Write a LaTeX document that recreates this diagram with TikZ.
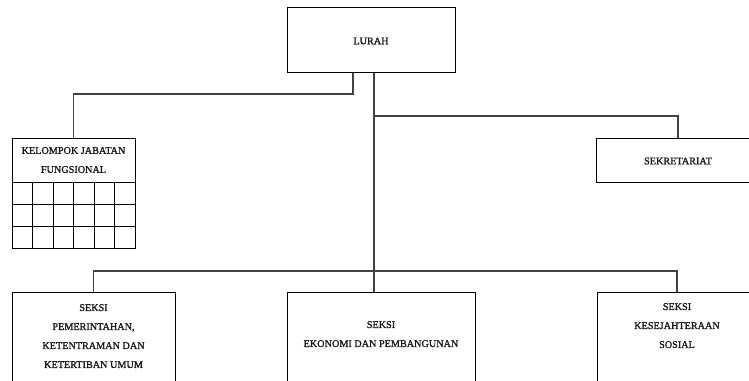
\documentclass[tikz,border=0pt]{standalone}
\usepackage{fontspec}
\setmainfont{Liberation Serif}
\newfontfamily\orgfont[FakeBold=1.4]{Liberation Serif}
\begin{document}
\begin{tikzpicture}[x=1pt,y=-1pt,
  box/.style={draw=black,line width=1pt,rectangle,inner sep=0pt,fill=white},
  conn/.style={draw=black!75,line width=1.1pt},
  lbl/.style={font=\orgfont\fontsize{10.2}{19}\selectfont,align=center,inner sep=0pt,text=black!90}]
\clip (0,0) rectangle (749,380);
\fill[white] (0,0) rectangle (749,380);
% boxes
\node[box,minimum width=168pt,minimum height=65pt] (lurah) at (371,39.5) {};
\node[box,minimum width=123pt,minimum height=110pt] (kel) at (73.5,193) {};
\node[box,minimum width=164pt,minimum height=44pt] (sek) at (678,160) {};
\node[box,minimum width=163pt,minimum height=110pt] (b1) at (93.5,347) {};
\node[box,minimum width=188pt,minimum height=110pt] (b2) at (381,347) {};
\node[box,minimum width=160pt,minimum height=110pt] (b3) at (677,347) {};
% grid of kelompok
\foreach \yy in {182,204,226}
  \draw[line width=1pt] (12,\yy) -- (135,\yy);
\foreach \xx in {32.5,53,73.5,94,114.5}
  \draw[line width=1pt] (\xx,182) -- (\xx,248);
% texts
\node[lbl] (tl) at (371,41) {LURAH};
\node[lbl] (tk) at (73.5,160) {KELOMPOK JABATAN\\FUNGSIONAL};
\node[lbl] (ts) at (678,161) {SEKRETARIAT};
\node[lbl,anchor=north] (t1) at (93.5,304) {SEKSI\\PEMERINTAHAN,\\KETENTRAMAN DAN\\KETERTIBAN UMUM};
\node[lbl,anchor=north] (t2) at (381,321) {SEKSI\\EKONOMI DAN PEMBANGUNAN};
\node[lbl,anchor=north] (t3) at (677,303) {SEKSI\\KESEJAHTERAAN\\SOSIAL};
% connectors
\coordinate (j1) at (353,94);
\coordinate (tr) at (374,116);
\coordinate (hb) at (0,271);
\draw[conn] (lurah.south -| j1) -- (j1) -| (kel.north);
\draw[conn] (lurah.south -| tr) -- (b2.north -| tr);
\draw[conn] (tr) -| (sek.north);
\draw[conn] (b1.north) |- (b3.north |- hb) -- (b3.north);
\end{tikzpicture}
\end{document}
